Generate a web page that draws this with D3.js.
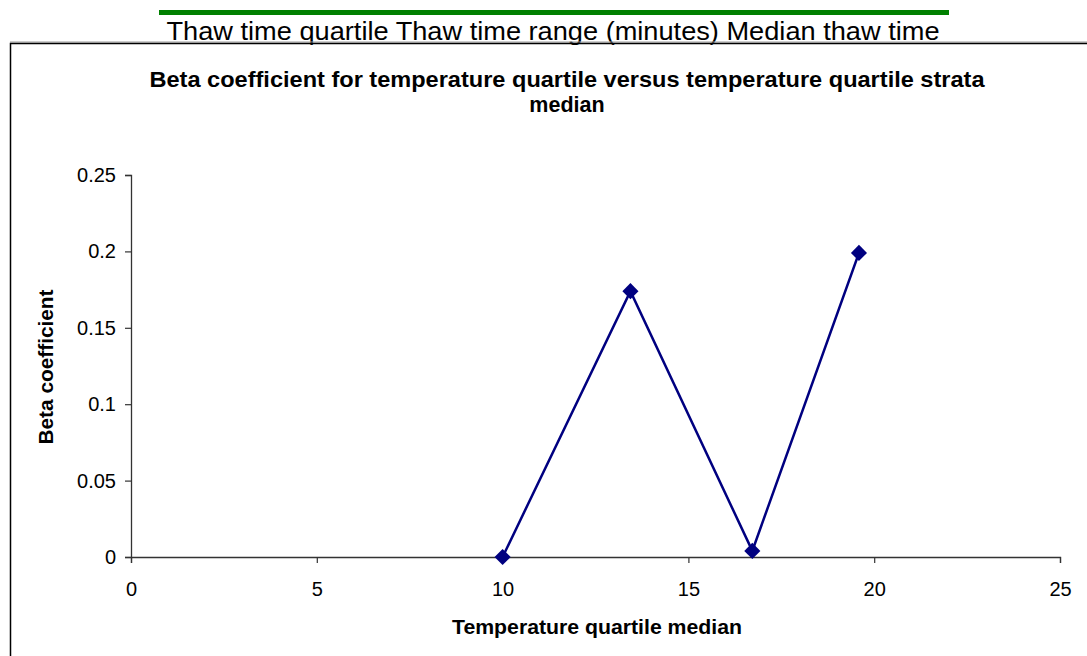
<!DOCTYPE html>
<html>
<head>
<meta charset="utf-8">
<script src="https://cdn.jsdelivr.net/npm/d3@7"></script>
<style>
  body { margin: 0; background: #fff; }
  svg { display: block; font-family: "Liberation Sans", Arial, sans-serif; }
</style>
</head>
<body>
<div id="chart"></div>
<script>
// data
const temp_median = [10.0, 13.44, 16.72, 19.59];
const beta_coef = [0, 0.174, 0.004, 0.199];
const x_ticks = [0, 5, 10, 15, 20, 25];
const y_ticks = [0, 0.05, 0.1, 0.15, 0.2, 0.25];

const header_text = "Thaw time quartile  Thaw time range (minutes)  Median thaw time";
const title_lines = ["Beta coefficient for temperature quartile versus temperature quartile strata", "median"];
const title_widths = [835, null];
const x_title = "Temperature quartile median";
const y_title = "Beta coefficient";

const width = 1087, height = 656;
const margin = ({top: 175, right: 27, bottom: 99, left: 131});

const svg = d3.select("#chart").append("svg")
  .attr("width", width)
  .attr("height", height);

// green bar + header text above the chart
svg.append("rect").attr("x", 159).attr("y", 10).attr("width", 790).attr("height", 5).attr("fill", "#008000");
svg.append("text").attr("x", 553).attr("y", 40).attr("text-anchor", "middle")
  .attr("font-size", 26).attr("textLength", 773).attr("lengthAdjust", "spacingAndGlyphs")
  .text(header_text);

// chart frame (runs off right and bottom)
svg.append("line").attr("x1", 10).attr("x2", width).attr("y1", 42).attr("y2", 42).attr("stroke", "#999").attr("stroke-width", 1);
svg.append("rect").attr("x", 10.5).attr("y", 43.5).attr("width", 1100).attr("height", 700)
  .attr("fill", "none").attr("stroke", "#000").attr("stroke-width", 1.5);

const x = d3.scaleLinear().domain([0, 25]).range([margin.left, width - margin.right]);
const y = d3.scaleLinear().domain([0, 0.25]).range([height - margin.bottom, margin.top]);

// title
svg.append("g").selectAll("text").data(title_lines).enter().append("text")
  .attr("x", 567).attr("y", (d, i) => 87 + i * 25)
  .attr("text-anchor", "middle").attr("font-weight", "bold").attr("font-size", 21.5)
  .attr("textLength", (d, i) => title_widths[i])
  .attr("lengthAdjust", "spacingAndGlyphs")
  .text(d => d);

// axes
let xAxis = g => g
  .attr("transform", `translate(0,${y(0)})`)
  .call(d3.axisBottom(x).tickValues(x_ticks).tickSize(6).tickPadding(19).tickFormat(d3.format("d")));
let yAxis = g => g
  .attr("transform", `translate(${x(0)},0)`)
  .call(d3.axisLeft(y).tickValues(y_ticks).tickSize(6).tickPadding(9).tickFormat(d => d === 0 ? "0" : String(d)));

const gx = svg.append("g").call(xAxis);
const gy = svg.append("g").call(yAxis);
[gx, gy].forEach(g => {
  g.select(".domain").attr("stroke", "#333").attr("stroke-width", 1.3);
  g.selectAll(".tick line").attr("stroke", "#333").attr("stroke-width", 1.2);
  g.selectAll(".tick text").attr("font-size", 20).attr("fill", "#000").attr("font-family", "Liberation Sans, Arial, sans-serif");
});

// axis titles
svg.append("text").attr("x", 597).attr("y", 634).attr("text-anchor", "middle")
  .attr("font-weight", "bold").attr("font-size", 20)
  .attr("textLength", 290).attr("lengthAdjust", "spacingAndGlyphs").text(x_title);
svg.append("text").attr("transform", "translate(53,367) rotate(-90)").attr("text-anchor", "middle")
  .attr("font-weight", "bold").attr("font-size", 20)
  .attr("textLength", 155).attr("lengthAdjust", "spacingAndGlyphs").text(y_title);

// series
const points = temp_median.map((d, i) => ({tx: d, b: beta_coef[i]}));
const line = d3.line().x(d => x(d.tx)).y(d => y(d.b));
svg.append("path").datum(points)
  .attr("d", line).attr("fill", "none").attr("stroke", "#000080").attr("stroke-width", 2.5);
svg.append("g").selectAll("path").data(points).enter().append("path")
  .attr("d", d3.symbol(d3.symbolSquare, 130))
  .attr("transform", d => `translate(${x(d.tx)},${y(d.b)}) rotate(45)`)
  .attr("fill", "#000080");
</script>
</body>
</html>
